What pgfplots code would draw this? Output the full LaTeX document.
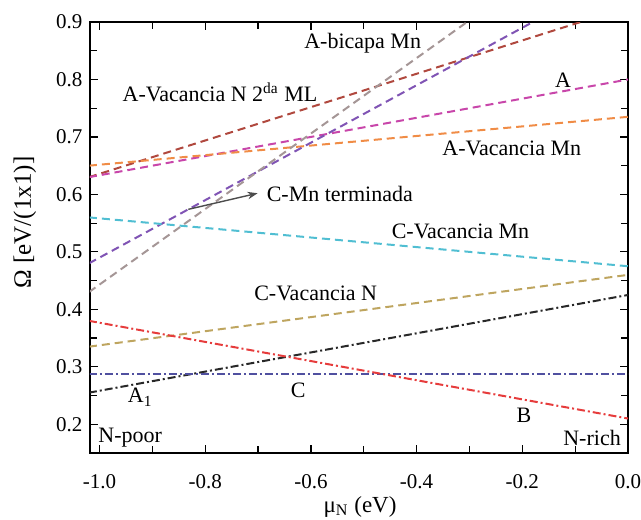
\documentclass[border=0pt]{standalone}
\usepackage{fontspec}
\setmainfont{Liberation Serif}
\usepackage{pgfplots}
\pgfplotsset{compat=1.18}
\usetikzlibrary{arrows.meta}

\definecolor{cbrown}{RGB}{176,72,62}
\definecolor{cmag}{RGB}{200,70,170}
\definecolor{corange}{RGB}{240,140,70}
\definecolor{cpurple}{RGB}{128,84,180}
\definecolor{cgrey}{RGB}{165,150,150}
\definecolor{ccyan}{RGB}{80,190,210}
\definecolor{colive}{RGB}{190,165,95}
\definecolor{cblack}{RGB}{40,40,40}
\definecolor{cblue}{RGB}{80,80,160}
\definecolor{cred}{RGB}{230,60,60}

\begin{document}
\fontsize{11}{13}\selectfont
\begin{tikzpicture}
\useasboundingbox (-45pt,-33.2pt) rectangle (275.5pt,226.5pt);
\begin{axis}[
  at={(0,0)}, anchor=south west,
  scale only axis, width=269pt, height=215.5pt,
  xmin=-1.018, xmax=0.0, ymin=0.15, ymax=0.9,
  xtick={-1,-0.8,-0.6,-0.4,-0.2,0},
  ytick={0.2,0.3,0.4,0.5,0.6,0.7,0.8,0.9},
  minor x tick num=1, minor y tick num=1,
  tick align=inside,
  major tick length=4pt, minor tick length=3.5pt,
  axis line style={line width=0.8pt},
  every tick/.style={black, line width=0.6pt},
  tick label style={font=\fontsize{10.5}{12}\selectfont},
  xticklabel style={yshift=-7pt},
  /pgf/number format/fixed,
  /pgf/number format/fixed zerofill,
  /pgf/number format/precision=1,
  /pgf/number format/assume math mode=true,
  xlabel={μ\textsubscript{N} (eV)},
  ylabel={Ω [eV/(1x1)]},
  xlabel style={at={(axis description cs:0.502,-0.125)}, anchor=center, font=\fontsize{11.5}{13}\selectfont},
  ylabel style={at={(axis description cs:-0.121,0.535)}, anchor=center, font=\fontsize{12.5}{14}\selectfont},
  clip=true,
  every axis plot/.append style={line width=1pt},
]
% A-Vacancia N 2da ML
\addplot[cbrown, dash pattern=on 4pt off 2.5pt] coordinates {(-1.02,0.63) (0,0.926)};
% A
\addplot[cmag, dash pattern=on 4pt off 2.5pt] coordinates {(-1.02,0.63) (0,0.80)};
% A-Vacancia Mn
\addplot[corange, dash pattern=on 4pt off 2.5pt] coordinates {(-1.02,0.65) (0,0.735)};
% C-Mn terminada
\addplot[cpurple, dash pattern=on 4pt off 2.5pt] coordinates {(-1.02,0.48) (0,0.99)};
% A-bicapa Mn
\addplot[cgrey, dash pattern=on 4pt off 2.5pt] coordinates {(-1.02,0.43) (0,1.10)};
% C-Vacancia Mn
\addplot[ccyan, dash pattern=on 4pt off 2.5pt] coordinates {(-1.02,0.56) (0,0.475)};
% C-Vacancia N
\addplot[colive, dash pattern=on 4pt off 2.5pt] coordinates {(-1.02,0.335) (0,0.46)};
% A1
\addplot[cblack, dash pattern=on 4pt off 1.5pt on 1pt off 1.5pt] coordinates {(-1.02,0.255) (0,0.425)};
% C
\addplot[cblue, dash pattern=on 4pt off 1.5pt on 1pt off 1.5pt] coordinates {(-1.02,0.287) (0,0.287)};
% B
\addplot[cred, dash pattern=on 4pt off 1.5pt on 1pt off 1.5pt] coordinates {(-1.02,0.38) (0,0.21)};

\node at (axis cs:-0.502,0.863) {A-bicapa Mn};
\node at (axis cs:-0.772,0.778) {A-Vacancia N 2\textsuperscript{da} ML};
\node at (axis cs:-0.123,0.799) {A};
\node at (axis cs:-0.22,0.680) {A-Vacancia Mn};
\node[anchor=west, inner sep=1pt] at (axis cs:-0.688,0.601) {C-Mn terminada};
\draw[-{Stealth[length=5pt]}, black!70, line width=0.7pt] (axis cs:-0.832,0.574) -- (axis cs:-0.701,0.602);
\node at (axis cs:-0.317,0.535) {C-Vacancia Mn};
\node at (axis cs:-0.591,0.428) {C-Vacancia N};
\node at (axis cs:-0.923,0.247) {A\textsubscript{1}};
\node at (axis cs:-0.624,0.259) {C};
\node at (axis cs:-0.197,0.216) {B};
\node at (axis cs:-0.942,0.176) {N-poor};
\node at (axis cs:-0.068,0.177) {N-rich};
\end{axis}
\end{tikzpicture}
\end{document}
